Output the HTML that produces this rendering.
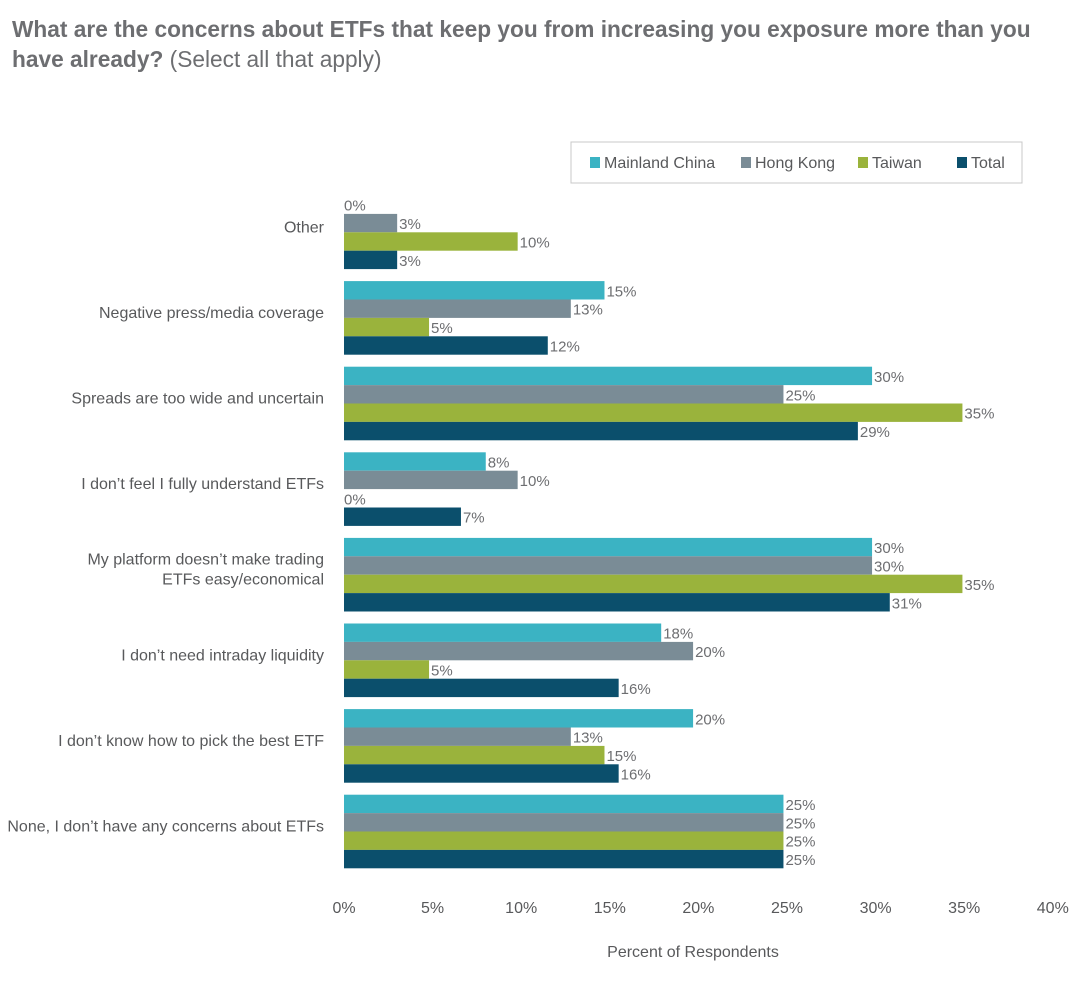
<!DOCTYPE html>
<html><head><meta charset="utf-8">
<style>
body{margin:0;background:#fff;width:1089px;height:986px;overflow:hidden;font-family:"Liberation Sans Narrow","Liberation Sans",sans-serif;}
#title{position:absolute;left:12px;top:14px;width:1040px;font-family:"Liberation Sans",sans-serif;font-size:22.7px;line-height:30px;color:#6d6e71;}
#title b{font-weight:bold}
svg{position:absolute;left:0;top:0}
</style></head>
<body>
<div id="title"><b>What are the concerns about ETFs that keep you from increasing you exposure more than you have already?</b> (Select all that apply)</div>
<svg id="chart" width="1089" height="986"></svg>
<script>
const categories=["Other","Negative press/media coverage","Spreads are too wide and uncertain","I don’t feel I fully understand ETFs","My platform doesn’t make trading|ETFs easy/economical","I don’t need intraday liquidity","I don’t know how to pick the best ETF","None, I don’t have any concerns about ETFs"];
const seriesNames=["Mainland China","Hong Kong","Taiwan","Total"];
const mainland=[0,14.7,29.8,8,29.8,17.9,19.7,24.8];
const hongkong=[3,12.8,24.8,9.8,29.8,19.7,12.8,24.8];
const taiwan=[9.8,4.8,34.9,0,34.9,4.8,14.7,24.8];
const total=[3,11.5,29,6.6,30.8,15.5,15.5,24.8];
const ticks=[0,5,10,15,20,25,30,35,40];
const colors=["#3bb3c3","#7a8c96","#9ab33c","#0b4f6c"];
const series=[mainland,hongkong,taiwan,total];
const NS="http://www.w3.org/2000/svg";
const svg=document.getElementById("chart");
const x0=344,pxPer=17.72;
const xs=v=>x0+v*pxPer;
const groupTop=195.5,pitch=85.6,bh=18.4;
function mk(t,a,txt){const e=document.createElementNS(NS,t);for(const k in a)e.setAttribute(k,a[k]);if(txt!==undefined)e.textContent=txt;svg.appendChild(e);return e;}
const lg=mk("rect",{x:571,y:142,width:451,height:41,fill:"#fff",stroke:"#c8c8c8"});


const lx=[590,741,858,957];
seriesNames.forEach((n,i)=>{
  const s=mk("rect",{x:lx[i],y:157,width:10,height:11,fill:colors[i]});
  
  
  const t=mk("text",{x:lx[i]+14,y:168,"font-size":16,fill:"#58595b"},n);
  
  
});
categories.forEach((c,g)=>{
  const top=groupTop+g*pitch;
  const lines=c.split("|");
  const cy=top+2*bh-6;
  lines.forEach((ln,k)=>{
    const t=mk("text",{x:324,y:cy+6+(k-(lines.length-1)/2)*20,"text-anchor":"end","font-size":16,fill:"#58595b"},ln);
    
    
  });
  series.forEach((arr,s)=>{
    const v=arr[g];const y=top+s*bh;
    const r=mk("rect",{x:x0,y:y,width:Math.max(0,xs(v)-x0),height:bh,fill:colors[s]});
    
    
    const t=mk("text",{x:xs(v)+(v>0?2:0),y:y+bh/2+6,"font-size":15,fill:"#6d6e71"},Math.round(v)+"%");
    
    
  });
});
ticks.forEach(v=>{
  const t=mk("text",{x:xs(v),y:913,"text-anchor":"middle","font-size":16,fill:"#58595b"},v+"%");
  
  
});
const at=mk("text",{x:693,y:957,"text-anchor":"middle","font-size":16,fill:"#58595b"},"Percent of Respondents");


</script>
</body></html>
